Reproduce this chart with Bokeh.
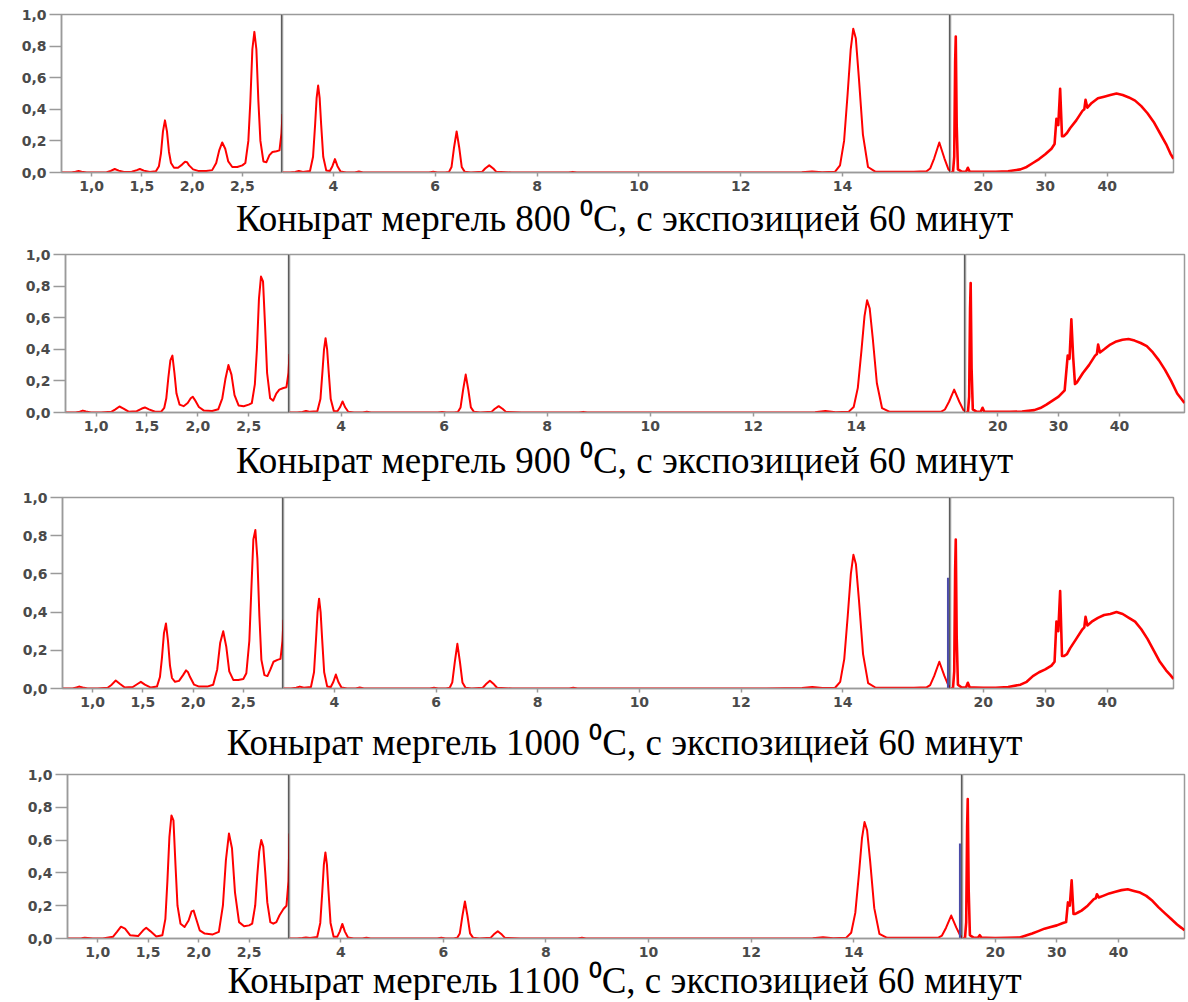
from bokeh.plotting import figure
from bokeh.layouts import column, row
from bokeh.models import Range1d, FixedTicker, CustomJSTickFormatter, Span
from bokeh.core.properties import value
from bokeh.embed import file_html
from bokeh.resources import INLINE

# ---------------- data ----------------
captions = [
    "Конырат мергель 800 \u2070C, с экспозицией 60 минут",
    "Конырат мергель 900 \u2070C, с экспозицией 60 минут",
    "Конырат мергель 1000 \u2070C, с экспозицией 60 минут",
    "Конырат мергель 1100 \u2070C, с экспозицией 60 минут",
]

y_ticks = [0.0, 0.2, 0.4, 0.6, 0.8, 1.0]
s1_ticks = [1.0, 1.5, 2.0, 2.5]
s2_ticks = [4, 6, 8, 10, 12, 14]
s3_ticks = [20, 30, 40]
s1_range = (0.70, 2.90)
s2_range = (3.00, 16.12)
s3_range = (14.7, 50.7)

s1_x = [0.70, 0.80, 0.84, 0.87, 0.90, 0.95, 1.05, 1.15, 1.19, 1.23,
        1.27, 1.32, 1.40, 1.45, 1.48, 1.52, 1.58, 1.64, 1.67, 1.69,
        1.71, 1.73, 1.75, 1.77, 1.79, 1.82, 1.86, 1.90, 1.93, 1.95,
        1.97, 2.01, 2.06, 2.14, 2.20, 2.24, 2.27, 2.30, 2.33, 2.36,
        2.40, 2.45, 2.50, 2.53, 2.56, 2.58, 2.60, 2.62, 2.64, 2.66,
        2.68, 2.71, 2.74, 2.77, 2.80, 2.84, 2.87, 2.89, 2.90]

t800_s1 = [0.000, 0.000, 0.005, 0.010, 0.005, 0.000, 0.000, 0.002, 0.010, 0.022,
           0.012, 0.003, 0.005, 0.015, 0.022, 0.012, 0.003, 0.008, 0.040, 0.120,
           0.260, 0.330, 0.260, 0.130, 0.060, 0.030, 0.030, 0.050, 0.068, 0.065,
           0.045, 0.020, 0.010, 0.010, 0.015, 0.060, 0.140, 0.190, 0.150, 0.070,
           0.035, 0.035, 0.045, 0.060, 0.200, 0.450, 0.780, 0.890, 0.780, 0.450,
           0.200, 0.070, 0.065, 0.110, 0.130, 0.135, 0.140, 0.250, 0.370]
t900_s1 = [0.000, 0.000, 0.005, 0.012, 0.006, 0.000, 0.000, 0.004, 0.020, 0.038,
           0.025, 0.005, 0.008, 0.025, 0.032, 0.020, 0.005, 0.006, 0.030, 0.090,
           0.220, 0.330, 0.360, 0.250, 0.120, 0.050, 0.040, 0.060, 0.090, 0.100,
           0.080, 0.035, 0.012, 0.010, 0.020, 0.090, 0.210, 0.300, 0.240, 0.110,
           0.045, 0.040, 0.050, 0.060, 0.180, 0.400, 0.720, 0.860, 0.830, 0.550,
           0.250, 0.090, 0.075, 0.120, 0.145, 0.155, 0.160, 0.250, 0.370]
t1000_s1 = [0.000, 0.000, 0.006, 0.010, 0.005, 0.000, 0.000, 0.004, 0.020, 0.042,
            0.025, 0.005, 0.008, 0.025, 0.035, 0.020, 0.005, 0.010, 0.060, 0.160,
            0.290, 0.340, 0.250, 0.120, 0.055, 0.035, 0.040, 0.070, 0.095, 0.085,
            0.060, 0.020, 0.010, 0.010, 0.020, 0.100, 0.240, 0.300, 0.220, 0.090,
            0.045, 0.045, 0.050, 0.080, 0.250, 0.520, 0.780, 0.830, 0.680, 0.380,
            0.150, 0.070, 0.065, 0.100, 0.140, 0.150, 0.155, 0.250, 0.360]
t1100_s1 = [0.000, 0.000, 0.002, 0.005, 0.003, 0.000, 0.000, 0.010, 0.040, 0.072,
            0.060, 0.020, 0.015, 0.050, 0.065, 0.045, 0.012, 0.020, 0.120, 0.350,
            0.620, 0.750, 0.720, 0.450, 0.200, 0.090, 0.070, 0.110, 0.165, 0.170,
            0.130, 0.050, 0.030, 0.025, 0.040, 0.200, 0.480, 0.640, 0.550, 0.280,
            0.100, 0.075, 0.080, 0.090, 0.200, 0.380, 0.530, 0.600, 0.560, 0.400,
            0.220, 0.100, 0.090, 0.100, 0.140, 0.180, 0.200, 0.350, 0.640]

s2_x = [3.00, 3.15, 3.25, 3.32, 3.40, 3.54, 3.60, 3.64, 3.67, 3.70,
        3.73, 3.76, 3.80, 3.86, 3.93, 3.98, 4.03, 4.08, 4.14, 4.25,
        4.42, 4.50, 4.58, 5.00, 5.50, 5.88, 5.96, 6.04, 6.20, 6.27,
        6.32, 6.37, 6.42, 6.47, 6.52, 6.58, 6.70, 6.92, 6.98, 7.06,
        7.14, 7.20, 7.50, 8.00, 8.62, 8.70, 8.78, 9.50, 10.50, 11.50,
        12.50, 13.20, 13.40, 13.60, 13.85, 13.95, 14.03, 14.10, 14.16, 14.21,
        14.26, 14.32, 14.40, 14.50, 14.65, 15.00, 15.40, 15.65, 15.72, 15.80,
        15.90, 16.00, 16.08, 16.12]

t800_s2 = [0.000, 0.000, 0.004, 0.010, 0.004, 0.010, 0.100, 0.300, 0.470, 0.550,
           0.470, 0.300, 0.100, 0.012, 0.010, 0.040, 0.085, 0.040, 0.006, 0.000,
           0.000, 0.006, 0.000, 0.000, 0.000, 0.000, 0.005, 0.000, 0.000, 0.004,
           0.035, 0.160, 0.260, 0.160, 0.035, 0.004, 0.000, 0.004, 0.025, 0.045,
           0.025, 0.004, 0.000, 0.000, 0.000, 0.004, 0.000, 0.000, 0.000, 0.000,
           0.000, 0.002, 0.007, 0.002, 0.004, 0.045, 0.200, 0.500, 0.780, 0.910,
           0.850, 0.600, 0.240, 0.035, 0.004, 0.004, 0.004, 0.008, 0.025, 0.090,
           0.190, 0.090, 0.020, 0.010]
t900_s2 = [0.000, 0.000, 0.004, 0.010, 0.004, 0.008, 0.085, 0.260, 0.400, 0.470,
           0.400, 0.260, 0.085, 0.010, 0.008, 0.033, 0.070, 0.033, 0.005, 0.000,
           0.000, 0.005, 0.000, 0.000, 0.000, 0.000, 0.004, 0.000, 0.000, 0.004,
           0.032, 0.145, 0.240, 0.145, 0.032, 0.004, 0.000, 0.004, 0.022, 0.040,
           0.022, 0.004, 0.000, 0.000, 0.000, 0.004, 0.000, 0.000, 0.000, 0.000,
           0.000, 0.002, 0.010, 0.002, 0.004, 0.035, 0.156, 0.390, 0.610, 0.710,
           0.660, 0.470, 0.185, 0.028, 0.004, 0.004, 0.004, 0.006, 0.019, 0.068,
           0.145, 0.068, 0.015, 0.008]
t1000_s2 = [0.000, 0.000, 0.004, 0.010, 0.004, 0.008, 0.085, 0.260, 0.400, 0.470,
            0.400, 0.260, 0.085, 0.010, 0.008, 0.034, 0.073, 0.034, 0.005, 0.000,
            0.000, 0.005, 0.000, 0.000, 0.000, 0.000, 0.004, 0.000, 0.000, 0.004,
            0.032, 0.140, 0.234, 0.140, 0.032, 0.004, 0.000, 0.004, 0.022, 0.040,
            0.022, 0.004, 0.000, 0.000, 0.000, 0.004, 0.000, 0.000, 0.000, 0.000,
            0.000, 0.002, 0.008, 0.002, 0.004, 0.035, 0.154, 0.385, 0.600, 0.700,
            0.650, 0.460, 0.180, 0.028, 0.004, 0.004, 0.004, 0.006, 0.018, 0.066,
            0.140, 0.066, 0.015, 0.008]
t1100_s2 = [0.000, 0.000, 0.003, 0.006, 0.003, 0.009, 0.095, 0.290, 0.450, 0.525,
            0.450, 0.290, 0.095, 0.011, 0.010, 0.042, 0.089, 0.042, 0.006, 0.000,
            0.000, 0.005, 0.000, 0.000, 0.000, 0.000, 0.004, 0.000, 0.000, 0.004,
            0.031, 0.136, 0.226, 0.136, 0.031, 0.004, 0.000, 0.004, 0.024, 0.044,
            0.024, 0.004, 0.000, 0.000, 0.000, 0.004, 0.000, 0.000, 0.000, 0.000,
            0.000, 0.002, 0.008, 0.002, 0.004, 0.035, 0.156, 0.390, 0.610, 0.710,
            0.660, 0.470, 0.185, 0.028, 0.004, 0.004, 0.004, 0.006, 0.018, 0.066,
            0.140, 0.066, 0.015, 0.008]

s3_x = [14.7, 15.1, 15.3, 15.45, 15.55, 15.7, 15.9, 16.5, 17.2, 17.5,
        17.8, 18.5, 20.0, 22.0, 24.0, 26.0, 27.0, 28.0, 29.0, 30.0,
        31.0, 31.5, 31.8, 32.1, 32.4, 32.7, 33.0, 33.5, 34.0, 35.0,
        36.0, 36.3, 36.5, 36.8, 37.5, 38.5, 39.5, 40.5, 41.5, 42.5,
        43.5, 44.5, 45.5, 46.5, 47.5, 48.5, 49.5, 50.2, 50.7]

t800_s3 = [0.000, 0.000, 0.100, 0.700, 0.860, 0.300, 0.020, 0.005, 0.005, 0.030,
           0.005, 0.005, 0.004, 0.005, 0.008, 0.020, 0.035, 0.060, 0.085, 0.115,
           0.150, 0.180, 0.340, 0.300, 0.530, 0.230, 0.230, 0.250, 0.280, 0.330,
           0.390, 0.400, 0.460, 0.410, 0.440, 0.470, 0.480, 0.490, 0.500, 0.490,
           0.475, 0.455, 0.420, 0.375, 0.320, 0.250, 0.180, 0.120, 0.087]
t900_s3 = [0.000, 0.000, 0.100, 0.660, 0.820, 0.280, 0.020, 0.005, 0.005, 0.030,
           0.005, 0.005, 0.004, 0.004, 0.006, 0.015, 0.028, 0.050, 0.075, 0.100,
           0.140, 0.360, 0.340, 0.590, 0.350, 0.180, 0.190, 0.220, 0.250, 0.300,
           0.360, 0.370, 0.430, 0.380, 0.400, 0.430, 0.450, 0.460, 0.465, 0.455,
           0.440, 0.420, 0.380, 0.330, 0.270, 0.200, 0.120, 0.085, 0.060]
t1000_s3 = [0.000, 0.000, 0.090, 0.620, 0.780, 0.270, 0.020, 0.005, 0.005, 0.030,
            0.005, 0.005, 0.004, 0.004, 0.008, 0.020, 0.035, 0.065, 0.085, 0.100,
            0.120, 0.140, 0.350, 0.300, 0.510, 0.170, 0.170, 0.180, 0.210, 0.260,
            0.310, 0.320, 0.375, 0.330, 0.350, 0.370, 0.385, 0.390, 0.400, 0.390,
            0.370, 0.350, 0.310, 0.260, 0.200, 0.140, 0.095, 0.070, 0.050]
t1100_s3 = [0.000, 0.000, 0.100, 0.680, 0.850, 0.300, 0.020, 0.005, 0.005, 0.020,
            0.004, 0.004, 0.003, 0.004, 0.006, 0.030, 0.045, 0.060, 0.070, 0.080,
            0.095, 0.100, 0.220, 0.200, 0.355, 0.150, 0.150, 0.160, 0.170, 0.200,
            0.240, 0.245, 0.270, 0.250, 0.260, 0.275, 0.285, 0.295, 0.300, 0.290,
            0.280, 0.260, 0.230, 0.190, 0.155, 0.120, 0.085, 0.065, 0.050]

# blue marker at the 2nd/3rd segment boundary (panels 1000 and 1100 only)
marker_x = 16.07
marker_top = [None, None, 0.58, 0.58]

series_s1 = [t800_s1, t900_s1, t1000_s1, t1100_s1]
series_s2 = [t800_s2, t900_s2, t1000_s2, t1100_s2]
series_s3 = [t800_s3, t900_s3, t1000_s3, t1100_s3]

# ---------------- layout (page pixels) ----------------
PAGE_W = 1186
panels = [
    dict(left=61, b1=282, b2=950, right=1173, bt=14, frame_h=158, bb=24, cap_h=52, cap_y=22),
    dict(left=65, b1=289, b2=965, right=1184, bt=6, frame_h=158, bb=24, cap_h=55, cap_y=24),
    dict(left=62, b1=283, b2=950, right=1173, bt=6, frame_h=191, bb=24, cap_h=56, cap_y=30),
    dict(left=67, b1=289, b2=962, right=1184, bt=6, frame_h=164, bb=22, cap_h=40, cap_y=20),
]

GRAY = "#9a9a9a"
TICK_FONT = "DejaVu Sans"
RED = "#ff0000"


def style_axis(ax, ticks, tick_out, standoff):
    ax.ticker = FixedTicker(ticks=ticks)
    ax.axis_line_color = GRAY
    ax.axis_line_width = 1.5
    ax.major_tick_line_color = GRAY
    ax.major_tick_line_width = 1.5
    ax.major_tick_in = 0
    ax.major_tick_out = tick_out
    ax.minor_tick_line_color = None
    ax.major_label_text_font = TICK_FONT
    ax.major_label_text_font_size = "14px"
    ax.major_label_text_font_style = "bold"
    ax.major_label_text_color = "#4a4a4a"
    ax.major_label_standoff = standoff


def make_fig(width, height, xr, bl, br, bt, bb, yaxis):
    p = figure(width=width, height=height, x_range=Range1d(*xr), y_range=Range1d(0, 1.0),
               output_backend="svg", toolbar_location=None,
               y_axis_location="left" if yaxis else None,
               min_border_left=bl, min_border_right=br,
               min_border_top=bt, min_border_bottom=bb)
    p.grid.visible = False
    p.outline_line_color = GRAY
    p.outline_line_width = 1.5
    p.background_fill_color = "white"
    p.border_fill_color = "white"
    return p


def caption_fig(text, height, y_center, x_center):
    p = figure(width=PAGE_W, height=height, x_range=Range1d(0, PAGE_W), y_range=Range1d(height, 0),
               output_backend="svg", toolbar_location=None,
               x_axis_location=None, y_axis_location=None,
               min_border_left=0, min_border_right=0, min_border_top=0, min_border_bottom=0)
    p.grid.visible = False
    p.outline_line_color = None
    p.background_fill_color = "white"
    p.border_fill_color = "white"
    p.text(x=[x_center], y=[y_center], text=[text], text_font=value("Liberation Serif"),
           text_font_size="37px", text_color="#000000", text_align="center",
           text_baseline="middle")
    return p


comma_fmt = CustomJSTickFormatter(code="return tick.toFixed(1).replace('.', ',');")

blocks = []
for i, L in enumerate(panels):
    bt = L["bt"]
    bb = L["bb"]
    fig_h = bt + L["frame_h"] + bb
    bl = L["left"]
    wA = L["b1"]
    wB = L["b2"] - L["b1"]
    wC = L["right"] - L["b2"] + 2

    fA = make_fig(wA, fig_h, s1_range, bl, 0, bt, bb, True)
    fB = make_fig(wB, fig_h, s2_range, 0, 0, bt, bb, False)
    fC = make_fig(wC, fig_h, s3_range, 0, 2, bt, bb, False)

    style_axis(fA.yaxis[0], y_ticks, 12, 3)
    fA.yaxis[0].formatter = comma_fmt
    style_axis(fA.xaxis[0], s1_ticks, 4, 4)
    fA.xaxis[0].formatter = comma_fmt
    style_axis(fB.xaxis[0], s2_ticks, 4, 4)
    style_axis(fC.xaxis[0], s3_ticks, 4, 4)

    fA.line(s1_x, series_s1[i], line_color=RED, line_width=2, line_join="round")
    fB.line(s2_x, series_s2[i], line_color=RED, line_width=2, line_join="round")
    fC.line(s3_x, series_s3[i], line_color=RED, line_width=2.6, line_join="round")

    if marker_top[i] is not None:
        fB.segment(x0=[marker_x], y0=[0], x1=[marker_x], y1=[marker_top[i]],
                   line_color="#4a4aa8", line_width=2)

    fA.add_layout(Span(location=s1_range[1], dimension="height", line_color="#1e1e1e", line_width=2))
    fB.add_layout(Span(location=s2_range[1], dimension="height", line_color="#1e1e1e", line_width=2))

    blocks.append(row(fA, fB, fC, spacing=0))
    blocks.append(caption_fig(captions[i], L["cap_h"], L["cap_y"], 624))

layout = column(*blocks, spacing=0)

open("out.html", "w").write(file_html(layout, INLINE))
